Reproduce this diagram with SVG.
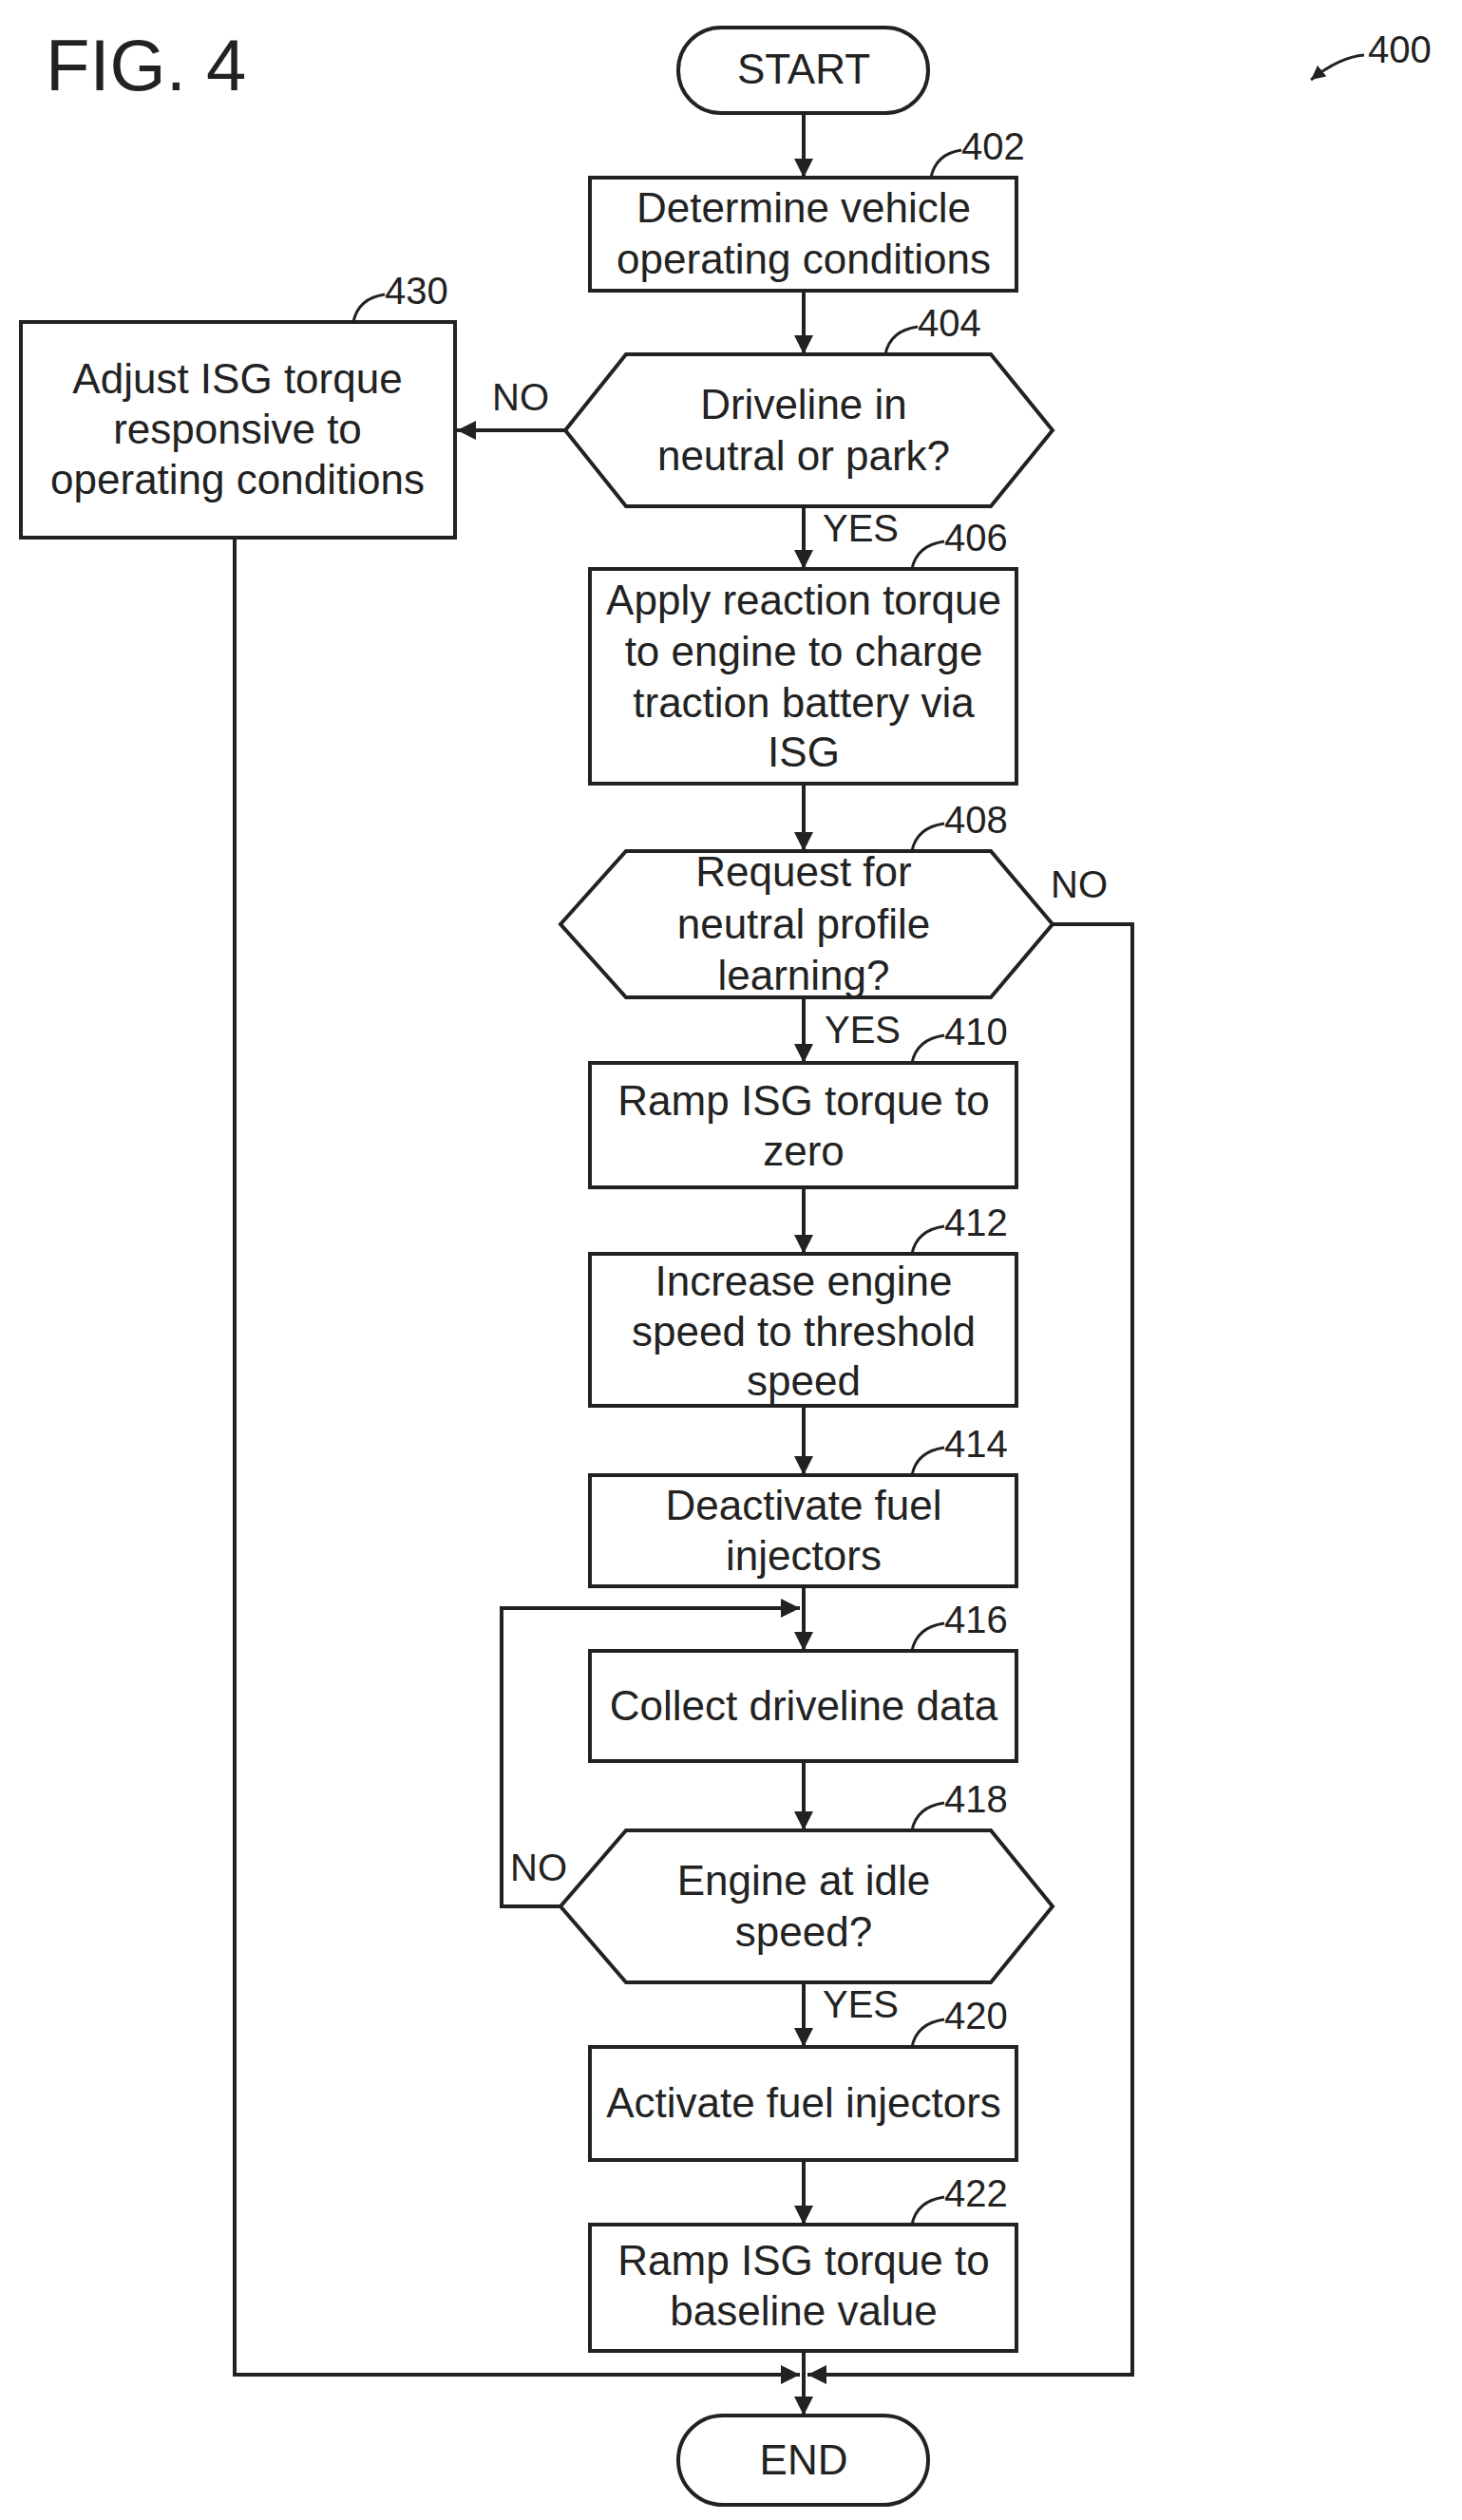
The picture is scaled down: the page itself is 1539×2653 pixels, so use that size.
<svg xmlns="http://www.w3.org/2000/svg" width="1539" height="2653" viewBox="0 0 1539 2653">
<defs>
<style>
.s{fill:#fff;stroke:#222;stroke-width:4}
.t{font-family:"Liberation Sans",Arial,sans-serif;font-size:44px;fill:#222;text-anchor:middle;dominant-baseline:central}
.n{font-family:"Liberation Sans",Arial,sans-serif;font-size:40px;fill:#222}
.c{fill:none;stroke:#222;stroke-width:4}
.l{fill:none;stroke:#222;stroke-width:3}
</style>
<marker id="a" viewBox="0 0 10 10" refX="10" refY="5" markerWidth="5" markerHeight="5" orient="auto"><path d="M0,0L10,5L0,10z" fill="#222"/></marker>
</defs>
<text x="48" y="95" style="font-family:'Liberation Sans',Arial,sans-serif;font-size:76px;fill:#222">FIG. 4</text>
<g id="ref400"><text class="n" x="1440" y="66">400</text><path class="l" d="M1436,58 Q1410,60 1380,84" marker-end="url(#a)"/></g>
<g id="connectors">
<path class="c" d="M846,119V187" marker-end="url(#a)"/>
<path class="c" d="M846,306V373" marker-end="url(#a)"/>
<path class="c" d="M595,453H481" marker-end="url(#a)"/>
<path class="c" d="M846,533V599" marker-end="url(#a)"/>
<path class="c" d="M846,825V896" marker-end="url(#a)"/>
<path class="c" d="M846,1050V1119" marker-end="url(#a)"/>
<path class="c" d="M846,1250V1320" marker-end="url(#a)"/>
<path class="c" d="M846,1480V1553" marker-end="url(#a)"/>
<path class="c" d="M846,1670V1738" marker-end="url(#a)"/>
<path class="c" d="M846,1854V1927" marker-end="url(#a)"/>
<path class="c" d="M846,2087V2155" marker-end="url(#a)"/>
<path class="c" d="M846,2274V2342" marker-end="url(#a)"/>
<path class="c" d="M846,2475V2543" marker-end="url(#a)"/>
<path class="c" d="M595,2007H528V1693H842" marker-end="url(#a)"/>
<path class="c" d="M247,566V2500H842" marker-end="url(#a)"/>
<path class="c" d="M1108,973H1192V2500H850" marker-end="url(#a)"/>
<text class="n" x="518" y="432">NO</text>
<text class="n" x="1106" y="945">NO</text>
<text class="n" x="537" y="1980">NO</text>
<text class="n" x="866" y="570">YES</text>
<text class="n" x="868" y="1098">YES</text>
<text class="n" x="866" y="2124">YES</text>
</g>
<g id="start"><rect class="s" x="714" y="29" width="263" height="90" rx="45"/><text class="t" x="846" y="72">START</text></g>
<g id="n402"><rect class="s" x="621" y="187" width="449" height="119"/><text class="t" x="846" y="218">Determine vehicle</text><text class="t" x="846" y="272">operating conditions</text>
<path class="l" d="M980,187Q985,162 1012,158"/><text class="n" x="1012" y="168">402</text></g>
<g id="n404"><polygon class="s" points="595,453 659,373 1043,373 1108,453 1043,533 659,533"/><text class="t" x="846" y="425">Driveline in</text><text class="t" x="846" y="479">neutral or park?</text>
<path class="l" d="M932,373Q937,348 966,344"/><text class="n" x="966" y="354">404</text></g>
<g id="n430"><rect class="s" x="22" y="339" width="457" height="227"/><text class="t" x="250" y="398">Adjust ISG torque</text><text class="t" x="250" y="451">responsive to</text><text class="t" x="250" y="504">operating conditions</text>
<path class="l" d="M372,339Q377,314 405,310"/><text class="n" x="405" y="320">430</text></g>
<g id="n406"><rect class="s" x="621" y="599" width="449" height="226"/><text class="t" x="846" y="631">Apply reaction torque</text><text class="t" x="846" y="685">to engine to charge</text><text class="t" x="846" y="739">traction battery via</text><text class="t" x="846" y="791">ISG</text>
<path class="l" d="M960,599Q965,574 994,570"/><text class="n" x="994" y="580">406</text></g>
<g id="n408"><polygon class="s" points="590,973 659,896 1043,896 1108,973 1043,1050 659,1050"/><text class="t" x="846" y="917">Request for</text><text class="t" x="846" y="972">neutral profile</text><text class="t" x="846" y="1026">learning?</text>
<path class="l" d="M960,896Q965,871 994,867"/><text class="n" x="994" y="877">408</text></g>
<g id="n410"><rect class="s" x="621" y="1119" width="449" height="131"/><text class="t" x="846" y="1158">Ramp ISG torque to</text><text class="t" x="846" y="1211">zero</text>
<path class="l" d="M960,1119Q965,1094 994,1090"/><text class="n" x="994" y="1100">410</text></g>
<g id="n412"><rect class="s" x="621" y="1320" width="449" height="160"/><text class="t" x="846" y="1348">Increase engine</text><text class="t" x="846" y="1401">speed to threshold</text><text class="t" x="846" y="1453">speed</text>
<path class="l" d="M960,1320Q965,1295 994,1291"/><text class="n" x="994" y="1301">412</text></g>
<g id="n414"><rect class="s" x="621" y="1553" width="449" height="117"/><text class="t" x="846" y="1584">Deactivate fuel</text><text class="t" x="846" y="1637">injectors</text>
<path class="l" d="M960,1553Q965,1528 994,1524"/><text class="n" x="994" y="1534">414</text></g>
<g id="n416"><rect class="s" x="621" y="1738" width="449" height="116"/><text class="t" x="846" y="1795">Collect driveline data</text>
<path class="l" d="M960,1738Q965,1713 994,1709"/><text class="n" x="994" y="1719">416</text></g>
<g id="n418"><polygon class="s" points="590,2007 659,1927 1043,1927 1108,2007 1043,2087 659,2087"/><text class="t" x="846" y="1979">Engine at idle</text><text class="t" x="846" y="2033">speed?</text>
<path class="l" d="M960,1927Q965,1902 994,1898"/><text class="n" x="994" y="1908">418</text></g>
<g id="n420"><rect class="s" x="621" y="2155" width="449" height="119"/><text class="t" x="846" y="2213">Activate fuel injectors</text>
<path class="l" d="M960,2155Q965,2130 994,2126"/><text class="n" x="994" y="2136">420</text></g>
<g id="n422"><rect class="s" x="621" y="2342" width="449" height="133"/><text class="t" x="846" y="2379">Ramp ISG torque to</text><text class="t" x="846" y="2432">baseline value</text>
<path class="l" d="M960,2342Q965,2317 994,2313"/><text class="n" x="994" y="2323">422</text></g>
<g id="end"><rect class="s" x="714" y="2543" width="263" height="94" rx="47"/><text class="t" x="846" y="2589">END</text></g>
</svg>
